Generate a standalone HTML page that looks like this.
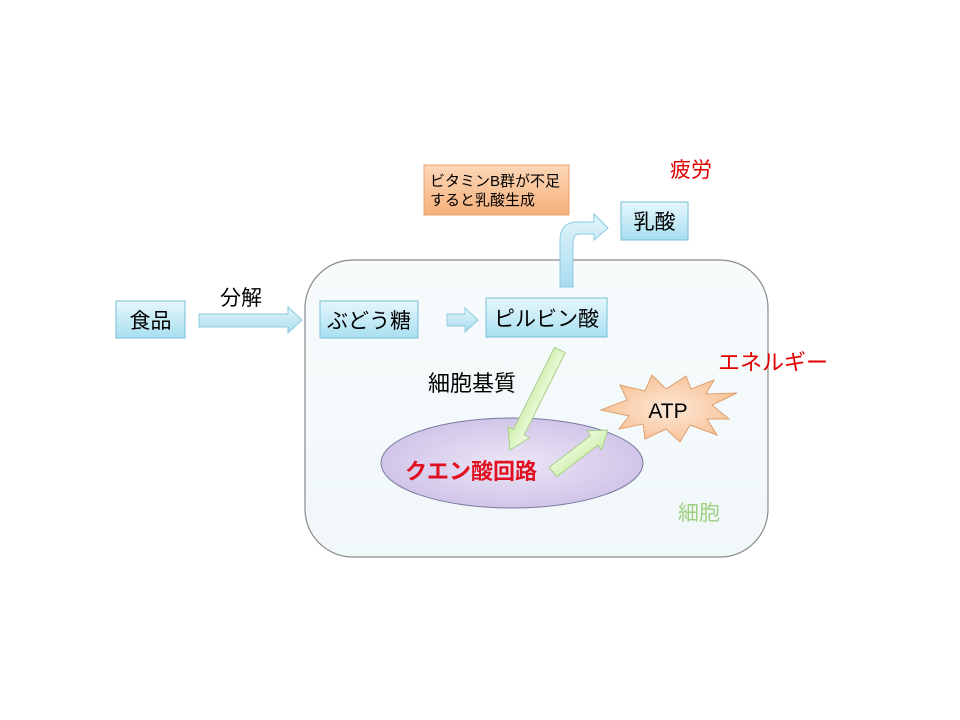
<!DOCTYPE html>
<html><head><meta charset="utf-8"><style>
body{margin:0;background:#fff;}
svg{display:block;}
text{font-family:"Liberation Sans","Noto Sans CJK JP",sans-serif;}
</style></head><body>
<svg width="960" height="720" viewBox="0 0 960 720" xmlns="http://www.w3.org/2000/svg">
<defs>
<linearGradient id="cell" x1="0" y1="0" x2="0" y2="1"><stop offset="0" stop-color="#f7fbfc"/><stop offset="1" stop-color="#f1f8fa"/></linearGradient>
<linearGradient id="blue" x1="0" y1="0" x2="0" y2="1"><stop offset="0" stop-color="#e6f7fc"/><stop offset="1" stop-color="#a8dff0"/></linearGradient>
<linearGradient id="arr" x1="0" y1="0" x2="0" y2="1"><stop offset="0" stop-color="#e2f5fb"/><stop offset="1" stop-color="#a9dcee"/></linearGradient>
<linearGradient id="org" x1="0" y1="0" x2="0" y2="1"><stop offset="0" stop-color="#fbd7b8"/><stop offset="1" stop-color="#f6b07a"/></linearGradient>
<linearGradient id="grn" x1="0" y1="0" x2="0" y2="1"><stop offset="0" stop-color="#effbe0"/><stop offset="1" stop-color="#cdeeaa"/></linearGradient>
<radialGradient id="ell" cx="0.5" cy="0.5" r="0.6"><stop offset="0" stop-color="#ece6f6"/><stop offset="1" stop-color="#cbbfe6"/></radialGradient>
<radialGradient id="atp" cx="0.5" cy="0.5" r="0.6"><stop offset="0" stop-color="#fde8d6"/><stop offset="1" stop-color="#f7bd8f"/></radialGradient>
</defs>

<rect x="305" y="260" width="463" height="297" rx="48" fill="url(#cell)" stroke="#8a8a8a" stroke-width="1.2"/>

<rect x="116" y="301" width="69" height="37" fill="url(#blue)" stroke="#77bfd6"/>
<text x="150.5" y="328" font-size="21" text-anchor="middle">食品</text>
<rect x="320" y="301" width="98" height="37" fill="url(#blue)" stroke="#77bfd6"/>
<text x="369" y="328" font-size="21" text-anchor="middle">ぶどう糖</text>
<rect x="486" y="298" width="121" height="39" fill="url(#blue)" stroke="#77bfd6"/>
<text x="546.5" y="326" font-size="21" text-anchor="middle">ピルビン酸</text>
<rect x="621" y="202" width="67" height="38" fill="url(#blue)" stroke="#77bfd6"/>
<text x="654.5" y="229" font-size="21" text-anchor="middle">乳酸</text>

<rect x="424" y="165" width="145" height="50" fill="url(#org)" stroke="#e8a070"/>
<text x="430" y="186" font-size="15">ビタミンB群が不足</text>
<text x="430" y="205" font-size="15">すると乳酸生成</text>

<polygon points="199,314 288,314 288,307 302,320 288,333 288,327 199,327" fill="url(#arr)" stroke="#8ccbe0"/>
<polygon points="447,314 465,314 465,308 478,320 465,332 465,326 447,326" fill="url(#arr)" stroke="#8ccbe0"/>
<path d="M560,287 L560,240 Q560,222 578,222 L594,222 L594,214 L608,228 L594,240 L594,234 L580,234 Q573,234 573,242 L573,287 Z" fill="url(#arr)" stroke="#8ccbe0"/>

<text x="220" y="305" font-size="21">分解</text>
<text x="670" y="177" font-size="21" fill="#e00000">疲労</text>
<text x="718" y="370" font-size="22" fill="#e00000">エネルギー</text>
<text x="428" y="391" font-size="22">細胞基質</text>
<text x="678" y="520" font-size="21" fill="#9fd080">細胞</text>

<ellipse cx="512" cy="463" rx="131" ry="45" fill="url(#ell)" stroke="#7a7aa0"/>
<text x="405" y="479" font-size="22" font-weight="bold" fill="#e01020">クエン酸回路</text>

<g transform="translate(560,350) rotate(116.6)"><polygon points="0,-6 92,-6 92,-12 112,0 92,12 92,6 0,6" fill="url(#grn)" stroke="#a8cf88"/></g>
<g transform="translate(553,472) rotate(-37.4)"><polygon points="0,-6 52,-6 52,-12 69,0 52,12 52,6 0,6" fill="url(#grn)" stroke="#a8cf88"/></g>

<polygon points="601,410 627,400 620,385 645,391 652,375 666,389 686,376 691,389 714,380 706,394 737,393 712,405 729,419 707,419 717,435 690,425 680,442 666,429 645,439 643,424 619,429 629,416" fill="url(#atp)" stroke="#e0a070"/>
<text x="668" y="418" font-size="21" text-anchor="middle">ATP</text>
</svg>
</body></html>
